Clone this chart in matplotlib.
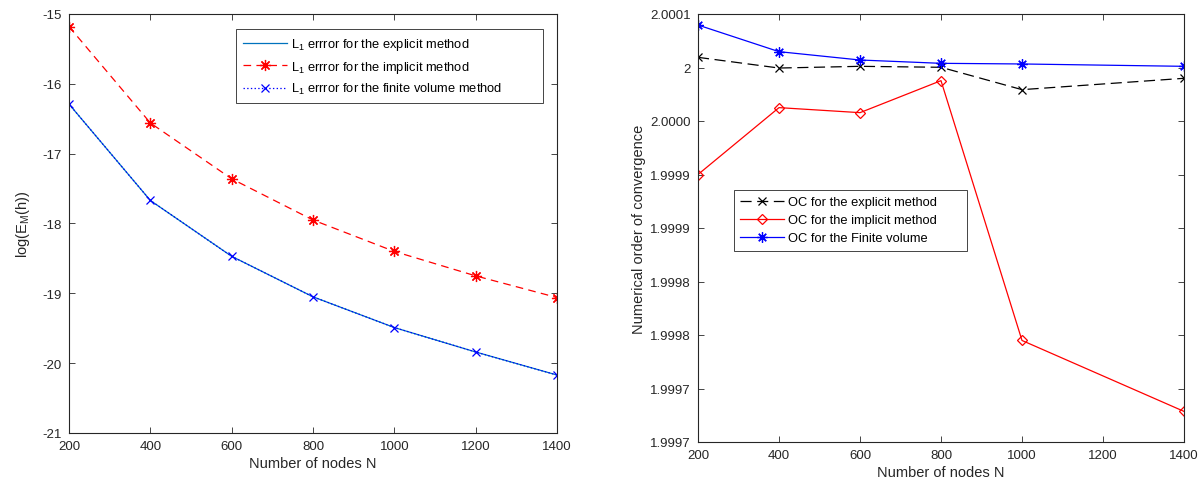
import matplotlib.pyplot as plt

plt.rcParams['font.family'] = ['Liberation Sans', 'DejaVu Sans']
plt.rcParams['mathtext.default'] = 'regular'
plt.rcParams['axes.unicode_minus'] = False
plt.rcParams['lines.scale_dashes'] = False

# error curves (left)
N = [200, 400, 600, 800, 1000, 1200, 1400]
err_explicit = [-16.29, -17.67, -18.47, -19.05, -19.49, -19.84, -20.17]
err_implicit = [-15.18, -16.56, -17.36, -17.95, -18.40, -18.75, -19.06]
err_fv = [-16.29, -17.67, -18.47, -19.05, -19.49, -19.84, -20.17]

# order of convergence (right)
N_oc = [200, 400, 600, 800, 1000, 1400]
oc_explicit = [2.0000095, 1.9999995, 2.0000011, 2.0000002, 1.9999793, 1.9999899]
oc_implicit = [1.9999000, 1.9999625, 1.9999578, 1.9999877, 1.9997449, 1.9996786]
oc_fv = [2.0000397, 2.0000148, 2.0000070, 2.0000039, 2.0000033, 2.0000011]

oc_ticks = [1.99965, 1.9997, 1.99975, 1.9998, 1.99985, 1.9999, 1.99995, 2.0, 2.00005]
oc_ticklabels = ['1.9997', '1.9997', '1.9998', '1.9998', '1.9999', '1.9999',
                 '2.0000', '2', '2.0001']

matlab_blue = (0, 0.447, 0.741)
grey = (0.15, 0.15, 0.15)
star = (8, 2, 0)

fig = plt.figure(figsize=(11.98, 4.85), dpi=100)
ax1 = fig.add_axes([69/1198, 51/485, 488/1198, 419/485])
ax2 = fig.add_axes([698/1198, 42/485, 486/1198, 428/485])


def style_axes(ax):
    for s in ax.spines.values():
        s.set_color(grey)
        s.set_linewidth(0.8)
    ax.tick_params(direction='in', top=True, right=True, length=4, width=0.6,
                   colors=grey, labelsize=9.5, pad=5)
    for lab in ax.get_xticklabels() + ax.get_yticklabels():
        lab.set_color(grey)


# left panel
ax1.plot(N, err_explicit, color=matlab_blue, lw=0.9,
         label='L$_1$ errror for the explicit method')
ax1.plot(N, err_implicit, color='red', lw=0.9, dashes=(5.5, 3.8), marker=star,
         ms=8, mew=0.9, label='L$_1$ errror for the implicit method')
ax1.plot(N, err_fv, color='blue', lw=0.9, ls=':', marker='x', ms=6, mew=0.9,
         label='L$_1$ errror for the finite volume method')
ax1.set_xlim(200, 1400)
ax1.set_ylim(-21, -15)
ax1.set_xticks(range(200, 1401, 200))
ax1.set_yticks(range(-21, -14))
ax1.set_xlabel('Number of nodes N', fontsize=10.5, color=grey, labelpad=3)
ax1.set_ylabel('log(E$_M$(h))', fontsize=10.5, color=grey, labelpad=8)
style_axes(ax1)
leg1 = ax1.legend(loc='upper left', bbox_to_anchor=(0.342, 0, 0.629, 0.964),
                  mode='expand', borderaxespad=0, fontsize=9.3, fancybox=False,
                  edgecolor=grey, framealpha=1, handlelength=3.4,
                  handletextpad=0.3, labelspacing=0.5, borderpad=0.55)
leg1.get_frame().set_linewidth(0.6)

# right panel
ax2.plot(N_oc, oc_explicit, color='black', lw=0.9, dashes=(8, 4), marker='x',
         ms=6, mew=0.9, label='OC for the explicit method')
ax2.plot(N_oc, oc_implicit, color='red', lw=0.9, marker='D', ms=5.5,
         mfc='none', mew=0.9, label='OC for the implicit method')
ax2.plot(N_oc, oc_fv, color='blue', lw=0.9, marker=star, ms=7.5, mew=0.9,
         label='OC for the Finite volume')
ax2.set_xlim(200, 1400)
ax2.set_ylim(1.99965, 2.00005)
ax2.set_xticks(range(200, 1401, 200))
ax2.set_yticks(oc_ticks)
ax2.set_yticklabels(oc_ticklabels)
ax2.set_xlabel('Number of nodes N', fontsize=10.5, color=grey, labelpad=3)
ax2.set_ylabel('Numerical order of convergence', fontsize=10.5, color=grey,
               labelpad=3)
style_axes(ax2)
leg2 = ax2.legend(loc='upper left', bbox_to_anchor=(0.0738, 0, 0.479, 0.589),
                  mode='expand', borderaxespad=0, fontsize=9.3, fancybox=False,
                  edgecolor=grey, framealpha=1, handlelength=3.4,
                  handletextpad=0.3, labelspacing=0.45, borderpad=0.5)
leg2.get_frame().set_linewidth(0.6)

fig.savefig('out.png', dpi=100)
